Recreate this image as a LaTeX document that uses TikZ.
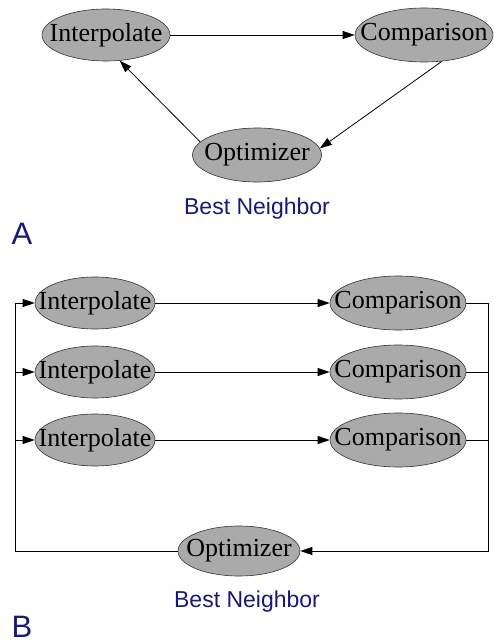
\documentclass[tikz,border=0pt]{standalone}
\usepackage{fontspec}
\setmainfont{Liberation Serif}
\newfontfamily\labfont{Liberation Sans}
\usetikzlibrary{shapes.geometric,arrows.meta}
\definecolor{nodegray}{RGB}{170,170,170}
\definecolor{capblue}{RGB}{24,24,120}
\tikzset{
  proc/.style={ellipse, draw=black!80, line width=0.6pt, fill=nodegray, inner sep=0pt,
    label={[font=\fontsize{26}{26}\selectfont, inner sep=0pt]center:#1}},
  conn/.style={line width=0.8pt, -{Triangle[length=12pt,width=8pt]}},
  plain/.style={line width=0.8pt},
  caption/.style={text=capblue, font=\labfont\fontsize{23}{23}\selectfont},
  letter/.style={text=capblue, font=\labfont\fontsize{31}{31}\selectfont, anchor=west}
}
\begin{document}
\begin{tikzpicture}[x=1pt,y=-1pt]
\useasboundingbox (0,0) rectangle (494,644);
% Part A
\node[proc=Interpolate, minimum width=128pt, minimum height=52pt] (iA) at (106,35) {};
\node[proc=Comparison, minimum width=138pt, minimum height=54pt] (cA) at (424,35) {};
\node[proc=Optimizer, minimum width=129pt, minimum height=54pt] (oA) at (257,155) {};
\draw[conn] (iA.east) -- (cA.west);
\draw[conn] (cA.-56) -- (oA.6);
\draw[conn] (oA.167) -- (iA.-62);
\node[caption] (capA) at (257,209) {Best Neighbor};
\node[letter] (lA) at (8,234) {A};
% Part B
\node[proc=Interpolate, minimum width=120pt, minimum height=52pt] (i1) at (95,303) {};
\node[proc=Interpolate, minimum width=120pt, minimum height=52pt] (i2) at (95,372) {};
\node[proc=Interpolate, minimum width=120pt, minimum height=52pt] (i3) at (95,440) {};
\node[proc=Comparison, minimum width=136pt, minimum height=54pt] (c1) at (398,303) {};
\node[proc=Comparison, minimum width=136pt, minimum height=54pt] (c2) at (398,372) {};
\node[proc=Comparison, minimum width=136pt, minimum height=54pt] (c3) at (398,440) {};
\node[proc=Optimizer, minimum width=122pt, minimum height=50pt] (oB) at (239,551) {};
\coordinate (rt) at (488,303);
\coordinate (rb) at (488,551);
\coordinate (lt) at (15,303);
\coordinate (lb) at (15,551);
\draw[conn] (i1.east) -- (c1.west);
\draw[conn] (i2.east) -- (c2.west);
\draw[conn] (i3.east) -- (c3.west);
\draw[conn] (c1.east) -- (rt) -- (rb) -- (oB.east);
\draw[plain] (c2.east) -- (c2.east -| rt);
\draw[plain] (c3.east) -- (c3.east -| rt);
\draw[conn] (oB.west) -- (lb) -- (lt) -- (i1.west);
\draw[conn] (i2.west -| lt) -- (i2.west);
\draw[conn] (i3.west -| lt) -- (i3.west);
\node[caption] (capB) at (247,602) {Best Neighbor};
\node[letter] (lB) at (8,627) {B};
\end{tikzpicture}
\end{document}
